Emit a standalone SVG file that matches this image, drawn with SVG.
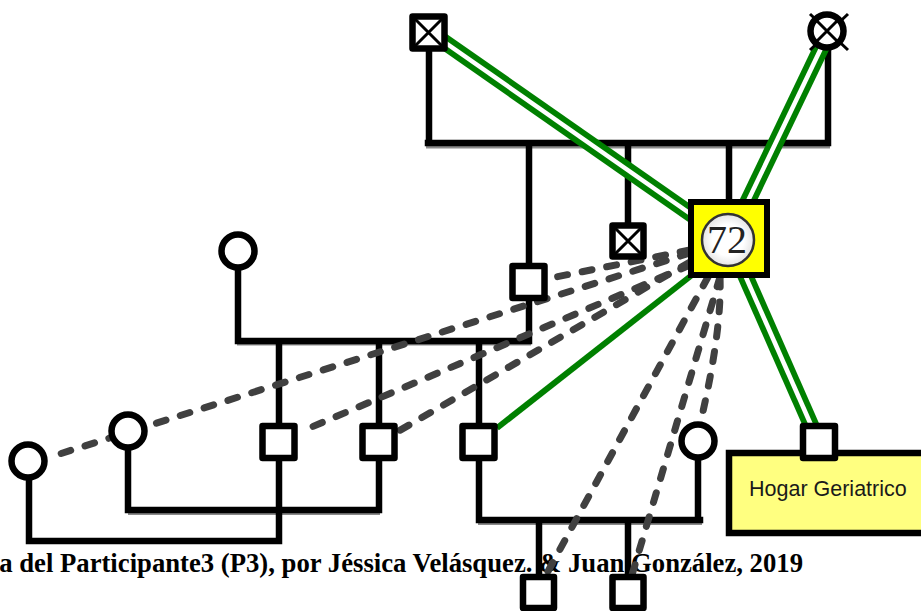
<svg xmlns="http://www.w3.org/2000/svg" width="921" height="611" viewBox="0 0 921 611">
<defs>
<radialGradient id="disc"><stop offset="0.6" stop-color="#ffffff"/><stop offset="1" stop-color="#e4e4e4"/></radialGradient>
</defs>
<style>
.kin{fill:none;stroke:#000;stroke-width:6.500;stroke-linecap:square}
.shadow{fill:none;stroke:#8a8a8a;stroke-width:6}
.dash{fill:none;stroke:#404040;stroke-width:7;stroke-linecap:round;stroke-dasharray:10 15}
.green{fill:none;stroke:#008000;stroke-width:6}
.g2{fill:none;stroke:#008000;stroke-width:16}
.g2w{fill:none;stroke:#fff;stroke-width:4.500}
.sq{fill:#fff;stroke:#000;stroke-width:6.500;stroke-linejoin:round}
.ci{fill:#fff;stroke:#000;stroke-width:6.500}
.x{fill:none;stroke:#000;stroke-width:3}
.cap{font-family:"Liberation Serif",serif;font-weight:bold;font-size:26.700px;fill:#000}
</style>
<rect width="921" height="611" fill="#fff"/>
<text class="cap" x="803" y="572" text-anchor="end">a del Participante3 (P3), por Jéssica Velásquez. &amp; Juan González, 2019</text>
<g id="connectors">
<path class="shadow" d="M426 145.500H830M237 342.500H531M128 512H380M478 522H702"/>
<path class="kin" d="M429 50V143M828 50V143M428 143H828M529 143V265M628 143V225M729 143V200M238 268V341M239 341H529M529 300V341M279 341V425M379 341V425M479 341V425M128 450V510M128 510H379M279 460V541M379 460V510M29 480V541M29 541H279M479 460V520M479 520H700M698 460V520M539 520V575M628 520V575"/>
<path class="dash" d="M690 250L546 279"/>
<path class="dash" d="M690 253L47 458"/>
<path class="dash" d="M690 265L300 432"/>
<path class="dash" d="M690 262L397 432"/>
<path class="dash" d="M708 277L546 575"/>
<path class="dash" d="M720 277L632 575"/>
<path class="dash" d="M720 277Q722 330 701 420"/>
<path class="green" d="M692 275L497 428"/>
<path class="g2" d="M440 39L695 217"/><path class="g2w" d="M440 39L695 217"/>
<path class="g2" d="M825 40L746 205"/><path class="g2w" d="M825 40L746 205"/>
<path class="g2" d="M741 266L815 434"/><path class="g2w" d="M741 266L815 434"/>
</g>
<g id="hogar">
<rect x="729" y="453" width="200" height="80" fill="#ffff80" stroke="#000" stroke-width="6.500"/>
<text x="749" y="496" font-family="Liberation Sans, sans-serif" font-size="21.500" fill="#1a1a1a">Hogar Geriatrico</text>
</g>
<g id="n-tl"><rect class="sq" x="412.500" y="16.500" width="32" height="32"/><path class="x" d="M414 18L443 47M443 18L414 47"/></g>
<g id="n-tr"><path class="x" d="M810 14L848 50M848 14L810 50"/><circle class="ci" cx="827" cy="31" r="16.500"/><path class="x" d="M816 20L838 42M838 20L816 42"/></g>
<g id="n-index">
<rect x="691" y="202" width="76" height="73" fill="#ffff00" stroke="#000" stroke-width="6"/>
<circle cx="728" cy="240" r="26" fill="url(#disc)" stroke="#333" stroke-width="2.500"/>
<text x="727" y="253" text-anchor="middle" font-family="Liberation Serif, serif" font-size="40" fill="#222">72</text>
</g>
<g id="n-deceased"><rect class="sq" x="612.500" y="225.500" width="31" height="31"/><path class="x" d="M614 227L642 255M642 227L614 255"/></g>
<g id="n-s1"><rect class="sq" x="512.500" y="266" width="32" height="32"/></g>
<g id="n-c1"><circle class="ci" cx="238" cy="251" r="16.500"/></g>
<g id="n-c2"><circle class="ci" cx="128" cy="431" r="16.500"/></g>
<g id="n-c3"><circle class="ci" cx="28" cy="461" r="16.500"/></g>
<g id="n-c4"><circle class="ci" cx="698" cy="441" r="16.500"/></g>
<g id="n-s2"><rect class="sq" x="262.500" y="426" width="32" height="32"/></g>
<g id="n-s3"><rect class="sq" x="362.500" y="426" width="32" height="32"/></g>
<g id="n-s4"><rect class="sq" x="462.500" y="426" width="32" height="32"/></g>
<g id="n-s5"><rect class="sq" x="803" y="426" width="32" height="32"/></g>
<g id="n-s6"><rect class="sq" x="523" y="577" width="31" height="31"/></g>
<g id="n-s7"><rect class="sq" x="612.500" y="577" width="31" height="31"/></g>
</svg>
